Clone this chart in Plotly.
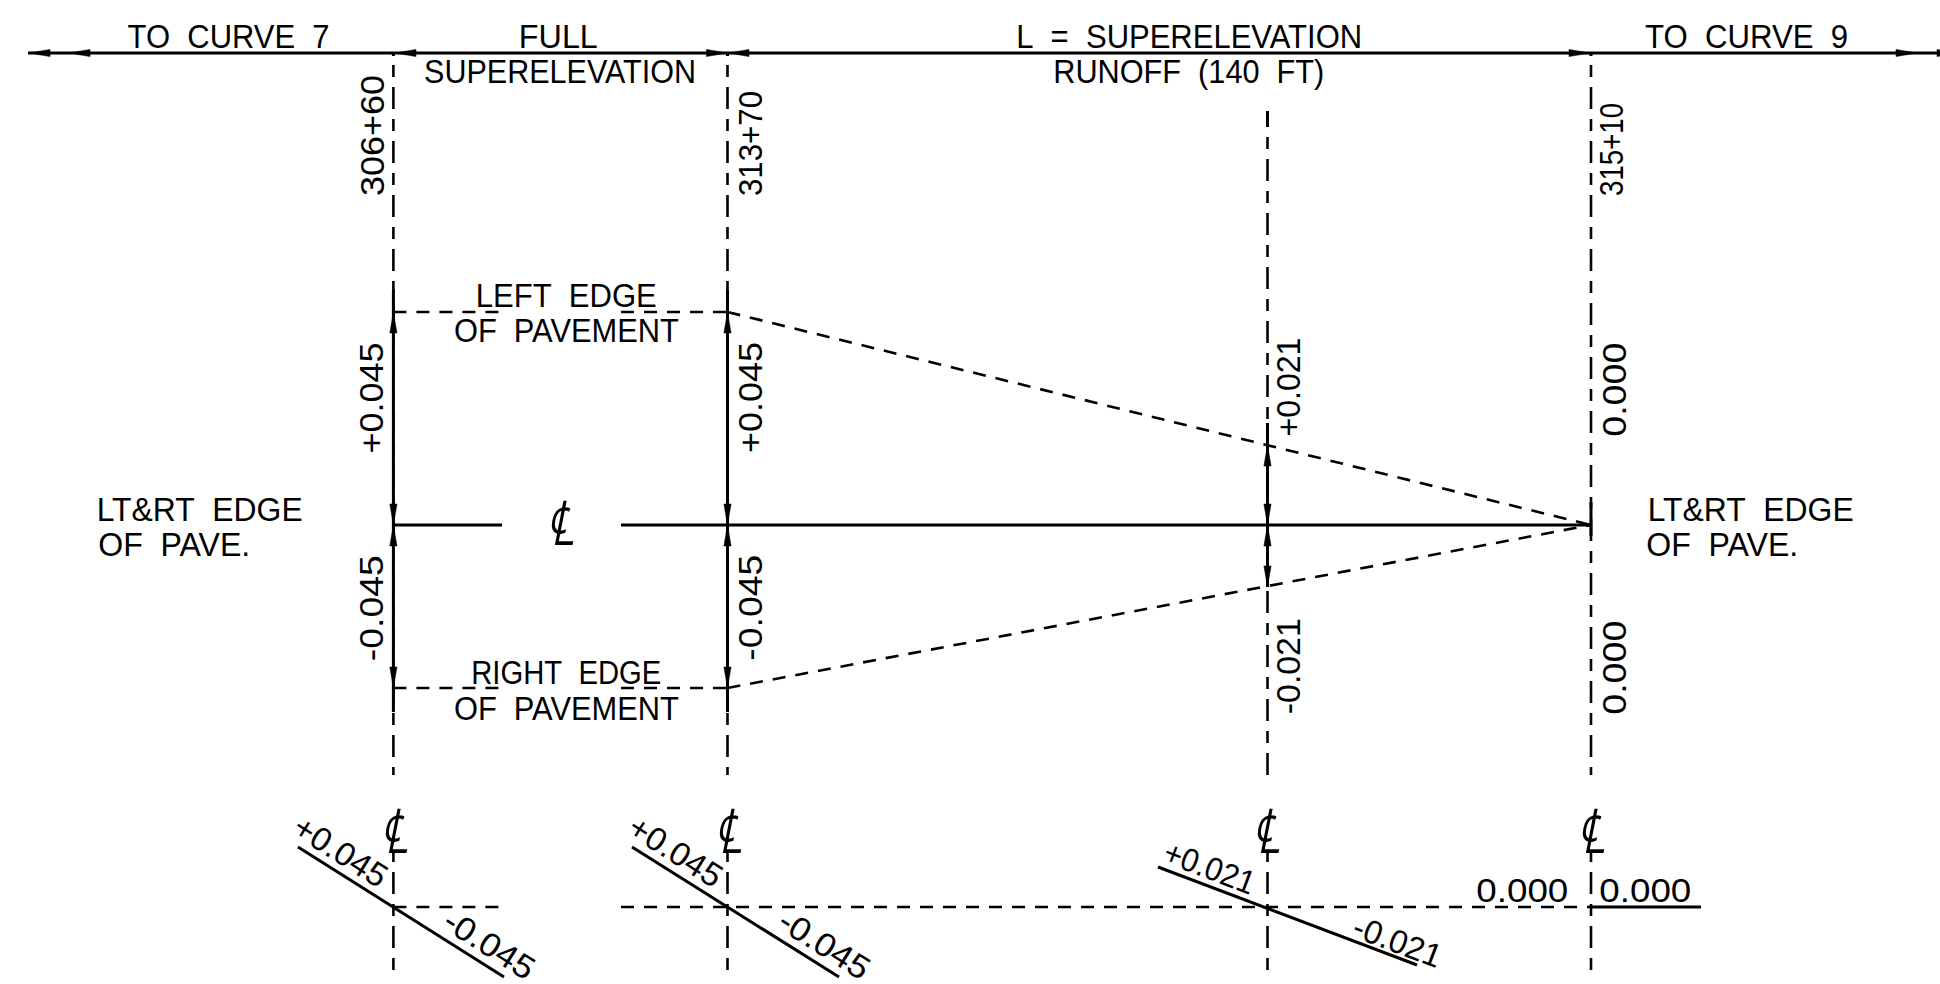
import json
import plotly.graph_objects as go

# Stations and pavement edge levels (plot units)
STATION_X = [393.4, 727.5, 1267.5, 1591.0]
TOP_Y = 53.0
CENTER_Y = 525.0
LEFT_EDGE_Y = [312.0, 312.0, 445.0, 525.0]
RIGHT_EDGE_Y = [688.0, 688.0, 587.0, 525.0]
DASH_TOP = [65.0, 65.0, 137.0, 65.0]
DASH_BOTTOM = 775.0
SECTION_Y = 907.0
SECTION_TOP = 850.0
SECTION_BOTTOM = 978.0
SECTION_LEFT = [298.0, 632.0, 1158.0]
SECTION_LEFT_Y = [847.0, 847.0, 867.0]
SECTION_RIGHT = [504.0, 839.0, 1417.0]
SECTION_RIGHT_Y = [977.0, 977.0, 965.0]
TEXT_GAP = [502.0, 621.0]
FLAT_END = 1701.0
TOP_LEFT = 28.0
TOP_RIGHT = 1940.0

# label, x, y, angle, target length
LABELS = ["TO  CURVE  7", "FULL", "SUPERELEVATION", "L  =  SUPERELEVATION", "RUNOFF  (140  FT)", "TO  CURVE  9",
          "306+60", "313+70", "315+10",
          "LEFT  EDGE", "OF  PAVEMENT", "RIGHT  EDGE", "OF  PAVEMENT",
          "LT&RT  EDGE", "OF  PAVE.", "LT&RT  EDGE", "OF  PAVE.",
          "+0.045", "+0.045", "-0.045", "-0.045", "+0.021", "-0.021", "0.000", "0.000",
          "+0.045", "-0.045", "+0.045", "-0.045", "+0.021", "-0.021", "0.000", "0.000"]
LABEL_X = [228, 558, 559.5, 1189, 1189, 1746,
           372, 750, 1611,
           566, 566, 566, 566,
           199.5, 173.5, 1750.5, 1722,
           371, 749.5, 371, 749.5, 1288, 1288, 1614, 1614,
           341, 490, 676, 825, 1210, 1398, 1522, 1645]
LABEL_Y = [36, 36, 71.5, 36, 71.5, 36,
           136, 144, 150,
           295, 330, 672.5, 708,
           509.5, 544.5, 509.5, 544.5,
           398, 398, 608, 608, 387, 666, 390, 668,
           851, 944, 851, 944, 867, 941, 890, 890]
LABEL_ANGLE = [0, 0, 0, 0, 0, 0,
               -90, -90, -90,
               0, 0, 0, 0,
               0, 0, 0, 0,
               -90, -90, -90, -90, -90, -90, -90, -90,
               32.3, 32.3, 32.3, 32.3, 20.7, 20.7, 0, 0]
LABEL_LEN = [202, 79, 272, 346, 271, 203,
             121, 105, 93,
             181, 225, 190, 225,
             206, 152, 206, 152,
             111, 111, 106, 106, 99, 96, 94, 94,
             104, 101, 104, 101, 95, 92, 92, 92]

CL_SYMBOL = "\u2104"
CL_X = [560, 393.5, 728, 1266, 1591]
CL_Y = [518, 826, 826, 826, 826]
CL_LEN = [28, 28, 28, 28, 28]

ARROW_TIPS_LEFT = [29, 69, 395, 728]
ARROW_TIPS_RIGHT = [727.5, 1590, 1917, 1958]


def seg(xs, ys, x0, y0, x1, y1):
    xs += [x0, x1, None]
    ys += [y0, y1, None]


fig = go.Figure()

# dashed station lines (long-short)
sx, sy = [], []
for x, top in zip(STATION_X, DASH_TOP):
    seg(sx, sy, x, top, x, DASH_BOTTOM)
    seg(sx, sy, x, SECTION_TOP, x, SECTION_BOTTOM)
fig.add_trace(go.Scatter(x=sx, y=sy, mode="lines", line=dict(color="black", width=2.6, dash="12px,10px,22px,10px")))

# stubs at top of station lines
tx, ty = [], []
seg(tx, ty, STATION_X[0], TOP_Y, STATION_X[0], 56)
seg(tx, ty, STATION_X[1], TOP_Y, STATION_X[1], 56)
seg(tx, ty, STATION_X[3], TOP_Y, STATION_X[3], 56)
seg(tx, ty, STATION_X[2], 111, STATION_X[2], 127)

# dashed edges
dx, dy = [], []
for ey in (LEFT_EDGE_Y[0], RIGHT_EDGE_Y[0]):
    seg(dx, dy, STATION_X[0], ey, TEXT_GAP[0], ey)
    seg(dx, dy, TEXT_GAP[1], ey, STATION_X[1], ey)
seg(dx, dy, STATION_X[1], LEFT_EDGE_Y[1], STATION_X[3], LEFT_EDGE_Y[3])
seg(dx, dy, STATION_X[1], RIGHT_EDGE_Y[1], STATION_X[3], RIGHT_EDGE_Y[3])
seg(dx, dy, STATION_X[0], SECTION_Y, TEXT_GAP[0], SECTION_Y)
seg(dx, dy, TEXT_GAP[1], SECTION_Y, STATION_X[3], SECTION_Y)
fig.add_trace(go.Scatter(x=dx, y=dy, mode="lines", line=dict(color="black", width=2.6, dash="13px,10px")))

# solid lines
lx, ly = list(tx), list(ty)
seg(lx, ly, TOP_LEFT, TOP_Y, TOP_RIGHT, TOP_Y)
seg(lx, ly, STATION_X[0], CENTER_Y, TEXT_GAP[0], CENTER_Y)
seg(lx, ly, TEXT_GAP[1], CENTER_Y, STATION_X[3], CENTER_Y)
for a, b, c, d in zip(SECTION_LEFT, SECTION_LEFT_Y, SECTION_RIGHT, SECTION_RIGHT_Y):
    seg(lx, ly, a, b, c, d)
seg(lx, ly, STATION_X[3], SECTION_Y, FLAT_END, SECTION_Y)
seg(lx, ly, STATION_X[0], 290, STATION_X[0], 712)
seg(lx, ly, STATION_X[1], 290, STATION_X[1], 712)
seg(lx, ly, STATION_X[2], 423, STATION_X[2], 587)
seg(lx, ly, STATION_X[3], 502, STATION_X[3], 536)
fig.add_trace(go.Scatter(x=lx, y=ly, mode="lines", line=dict(color="black", width=3)))

# arrowheads
ax, ay = [], []
HEAD = 21
HALF = 3.6
for tip in ARROW_TIPS_LEFT:
    ax += [tip, tip + HEAD, tip + HEAD, tip, None]
    ay += [TOP_Y, TOP_Y - HALF, TOP_Y + HALF, TOP_Y, None]
for tip in ARROW_TIPS_RIGHT:
    ax += [tip, tip - HEAD, tip - HEAD, tip, None]
    ay += [TOP_Y, TOP_Y - HALF, TOP_Y + HALF, TOP_Y, None]
for i in range(3):
    x = STATION_X[i]
    for tip, d in ((LEFT_EDGE_Y[i], 1), (CENTER_Y, -1), (CENTER_Y, 1), (RIGHT_EDGE_Y[i], -1)):
        ax += [x, x - HALF, x + HALF, x, None]
        ay += [tip, tip + d * HEAD, tip + d * HEAD, tip, None]
fig.add_trace(go.Scatter(x=ax, y=ay, mode="lines", fill="toself", fillcolor="black",
                         line=dict(color="black", width=0.5)))

FONT = "Liberation Sans, sans-serif"
for text, x, y, angle in zip(LABELS, LABEL_X, LABEL_Y, LABEL_ANGLE):
    fig.add_annotation(x=x, y=y, xref="x", yref="y", text=text.replace("  ", "\u00a0\u00a0"), textangle=angle,
                       showarrow=False, xanchor="center", yanchor="middle",
                       font=dict(family=FONT, size=33, color="black"))
for x, y in zip(CL_X, CL_Y):
    fig.add_annotation(x=x, y=y, xref="x", yref="y", text=CL_SYMBOL, showarrow=False,
                       xanchor="center", yanchor="middle",
                       font=dict(family="Noto Sans CJK SC", size=62, color="black", style="italic"))

fig.update_layout(width=1940, height=984, margin=dict(l=0, r=0, t=0, b=0), showlegend=False,
                  plot_bgcolor="white", paper_bgcolor="white",
                  xaxis=dict(range=[0, 1940], visible=False, fixedrange=True),
                  yaxis=dict(range=[984, 0], visible=False, fixedrange=True))

post = """
document.body.style.margin='0';document.body.style.overflow='hidden';
var L=%s;
document.querySelectorAll('.annotation-text').forEach(function(t,i){
 if(i<L.length){t.setAttribute('textLength',L[i]);t.setAttribute('lengthAdjust','spacingAndGlyphs');}
});
""" % json.dumps(LABEL_LEN + CL_LEN)
fig.write_html("out.html", post_script=post, config={"displayModeBar": False})
